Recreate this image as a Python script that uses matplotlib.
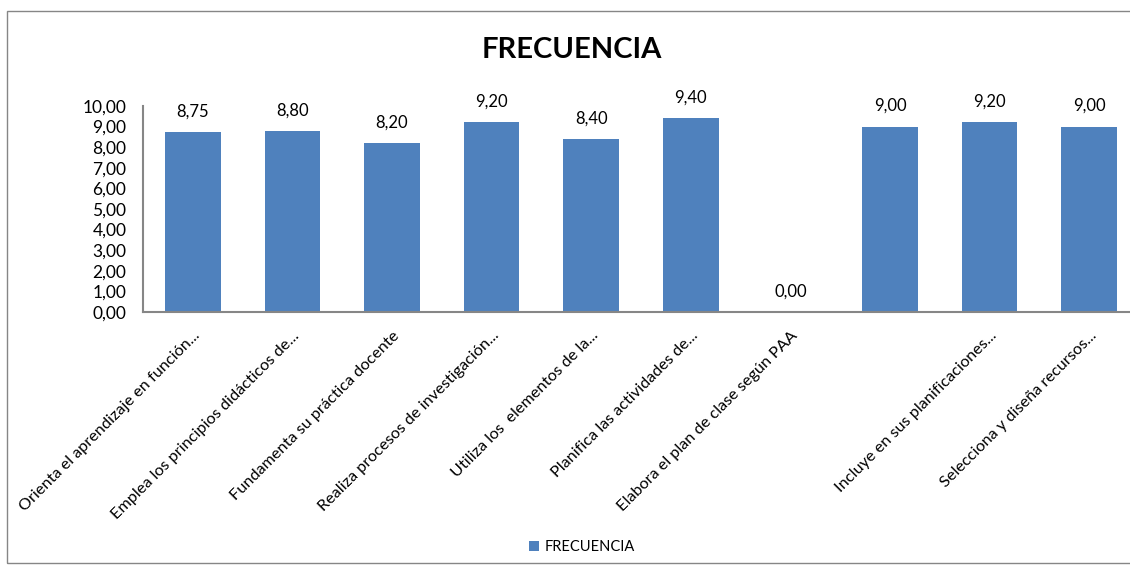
import matplotlib.pyplot as plt
from matplotlib.patches import Rectangle

plt.rcParams['font.family'] = ['Lato', 'DejaVu Sans']

# Data
etiquetas = [
    'Orienta el aprendizaje en función...',
    'Emplea los principios didácticos de...',
    'Fundamenta su práctica docente',
    'Realiza procesos de investigación...',
    'Utiliza los  elementos de la...',
    'Planifica las actividades de...',
    'Elabora el plan de clase según PAA',
    '',
    'Incluye en sus planificaciones...',
    'Selecciona y diseña recursos...',
]
frecuencia = [8.75, 8.80, 8.20, 9.20, 8.40, 9.40, 0.00, 9.00, 9.20, 9.00]
y_ticks = [0, 1, 2, 3, 4, 5, 6, 7, 8, 9, 10]

W, H = 1130, 565
fig = plt.figure(figsize=(W / 100, H / 100), dpi=100)
fig.patch.set_facecolor('white')

# axes placed in pixel terms
left, right, bottom, top = 143, 1139, 312, 106
ax = fig.add_axes([left / W, 1 - bottom / H, (right - left) / W, (bottom - top) / H])

x = list(range(len(frecuencia)))
bars = ax.bar(x, frecuencia, width=0.56, color='#4F81BD', label='FRECUENCIA', zorder=2)

for xi, v in zip(x, frecuencia):
    ax.annotate(f'{v:.2f}'.replace('.', ','), (xi, v), xytext=(0, 9), textcoords='offset points',
                ha='center', va='bottom', fontsize=12, color='black')

ax.set_xlim(-0.5, len(frecuencia) - 0.5)
ax.set_ylim(0, 10)
ax.set_yticks(y_ticks)
ax.set_yticklabels([f'{t:.2f}'.replace('.', ',') for t in y_ticks], fontsize=12.5)
ax.set_xticks(x)
ax.set_xticklabels(etiquetas, rotation=45, ha='right', rotation_mode='anchor', fontsize=11.7)
ax.tick_params(axis='both', length=0)
ax.tick_params(axis='y', pad=12)
ax.tick_params(axis='x', pad=12)

for s in ['top', 'right']:
    ax.spines[s].set_visible(False)
ax.spines['left'].set_color('#868686')
ax.spines['bottom'].set_color('#868686')
ax.spines['left'].set_linewidth(1.5)
ax.spines['bottom'].set_linewidth(1.5)

fig.text(572 / W, 1 - 50 / H, 'FRECUENCIA', ha='center', va='center', fontsize=21, fontweight='bold')

fig.legend(handles=[bars], labels=['FRECUENCIA'], loc='center', bbox_to_anchor=(582 / W, 1 - 547 / H),
           frameon=False, fontsize=10.5, handlelength=0.7, handleheight=0.7, handletextpad=0.4)

# outer chart border
fig.add_artist(Rectangle((7 / W, 2 / H), 1.2, 1 - 13 / H, transform=fig.transFigure,
                         fill=False, edgecolor='#868686', linewidth=1))

fig.savefig('out.png', dpi=100)
